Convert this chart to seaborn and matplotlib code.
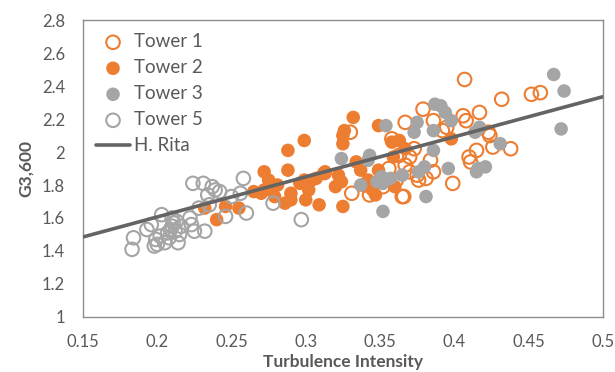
import matplotlib
matplotlib.use("Agg")
import matplotlib.pyplot as plt
import seaborn as sns
import numpy as np

# ---- data ----
t1_x = [0.407, 0.432, 0.452, 0.458, 0.438, 0.417, 0.406, 0.408, 0.423, 0.424,
        0.426, 0.415, 0.410, 0.411, 0.399, 0.379, 0.386, 0.367, 0.392, 0.384,
        0.386, 0.373, 0.370, 0.367, 0.370, 0.376, 0.361, 0.365, 0.358, 0.330,
        0.331, 0.343, 0.366, 0.375, 0.395, 0.352, 0.340, 0.356, 0.363, 0.381]
t1_y = [2.44, 2.32, 2.35, 2.36, 2.02, 2.24, 2.22, 2.19, 2.12, 2.10,
        2.03, 2.01, 1.97, 1.94, 1.81, 2.26, 2.19, 2.18, 2.13, 1.95,
        1.88, 2.02, 1.97, 1.92, 1.88, 1.83, 1.83, 1.73, 2.08, 2.12,
        1.75, 1.74, 1.73, 1.86, 2.15, 1.79, 1.80, 1.90, 1.98, 1.84]

t2_x = [0.299, 0.288, 0.272, 0.288, 0.312, 0.272, 0.277, 0.279, 0.290, 0.290,
        0.299, 0.304, 0.302, 0.309, 0.300, 0.286, 0.270, 0.275, 0.255, 0.246,
        0.232, 0.240, 0.332, 0.326, 0.325, 0.325, 0.349, 0.313, 0.322, 0.324,
        0.320, 0.334, 0.337, 0.342, 0.349, 0.345, 0.347, 0.325, 0.358, 0.359,
        0.363, 0.360, 0.367, 0.398, 0.296, 0.313, 0.281, 0.265, 0.307]
t2_y = [2.07, 2.01, 1.88, 1.89, 1.87, 1.77, 1.79, 1.73, 1.75, 1.71,
        1.83, 1.83, 1.77, 1.68, 1.71, 1.69, 1.75, 1.83, 1.66, 1.67,
        1.66, 1.59, 2.21, 2.13, 2.10, 2.05, 2.16, 1.88, 1.86, 1.82,
        1.79, 1.94, 1.89, 1.83, 1.89, 1.77, 1.74, 1.67, 2.06, 1.97,
        2.07, 1.79, 2.02, 2.08, 1.81, 1.87, 1.80, 1.76, 1.84]

t3_x = [0.467, 0.474, 0.472, 0.431, 0.414, 0.417, 0.416, 0.415, 0.387, 0.391,
        0.394, 0.398, 0.375, 0.373, 0.386, 0.386, 0.396, 0.380, 0.376, 0.381,
        0.352, 0.354, 0.324, 0.343, 0.342, 0.337, 0.348, 0.352, 0.357, 0.351,
        0.421, 0.365]
t3_y = [2.47, 2.37, 2.14, 2.05, 2.12, 2.15, 1.90, 1.88, 2.29, 2.28,
        2.24, 2.19, 2.18, 2.12, 2.13, 2.01, 1.90, 1.91, 1.88, 1.73,
        1.64, 2.16, 1.96, 1.98, 1.95, 1.80, 1.82, 1.81, 1.84, 1.85,
        1.91, 1.86]

t5_x = [0.183, 0.184, 0.193, 0.196, 0.203, 0.198, 0.200, 0.199, 0.202, 0.205,
        0.207, 0.209, 0.210, 0.211, 0.212, 0.213, 0.214, 0.215, 0.210, 0.208,
        0.224, 0.231, 0.237, 0.239, 0.234, 0.242, 0.250, 0.256, 0.258, 0.222,
        0.223, 0.225, 0.232, 0.228, 0.235, 0.246, 0.260, 0.278, 0.297, 0.216]
t5_y = [1.41, 1.48, 1.53, 1.56, 1.62, 1.43, 1.44, 1.47, 1.49, 1.45,
        1.51, 1.53, 1.55, 1.57, 1.52, 1.58, 1.45, 1.50, 1.60, 1.48,
        1.81, 1.81, 1.79, 1.77, 1.74, 1.76, 1.73, 1.75, 1.84, 1.60,
        1.56, 1.52, 1.52, 1.66, 1.68, 1.61, 1.63, 1.69, 1.59, 1.55]

rita_x = [0.15, 0.50]
rita_y = [1.485, 2.335]

x_ticks = [0.15, 0.2, 0.25, 0.3, 0.35, 0.4, 0.45, 0.5]
x_labels = ["0.15", "0.2", "0.25", "0.3", "0.35", "0.4", "0.45", "0.5"]
y_ticks = [1, 1.2, 1.4, 1.6, 1.8, 2, 2.2, 2.4, 2.6, 2.8]
y_labels = ["1", "1.2", "1.4", "1.6", "1.8", "2", "2.2", "2.4", "2.6", "2.8"]

ORANGE = "#ED7D31"
GRAY = "#A5A5A5"
LINE = "#646464"
TEXT = "#595959"
SPINE = "#8C8C8C"

sns.set_style("white")
plt.rcParams["font.family"] = ["Lato", "DejaVu Sans"]

fig = plt.figure(figsize=(6.15, 3.72), dpi=100)
ax = fig.add_axes([0.135, 0.148, 0.845, 0.798])

S = 95
sns.scatterplot(x=t1_x, y=t1_y, ax=ax, s=S, color=ORANGE, facecolor="none",
                edgecolor=ORANGE, linewidth=1.5, label="Tower 1", zorder=3)
sns.scatterplot(x=t2_x, y=t2_y, ax=ax, s=S, color=ORANGE, edgecolor="none",
                linewidth=0, label="Tower 2", zorder=3)
sns.scatterplot(x=t3_x, y=t3_y, ax=ax, s=S, color=GRAY, edgecolor="none",
                linewidth=0, label="Tower 3", zorder=3)
sns.scatterplot(x=t5_x, y=t5_y, ax=ax, s=S, color=GRAY, facecolor="none",
                edgecolor=GRAY, linewidth=1.5, label="Tower 5", zorder=3)
sns.lineplot(x=rita_x, y=rita_y, ax=ax, color=LINE, linewidth=2.6,
             label="H. Rita", zorder=4)

ax.set_xlim(0.15, 0.5)
ax.set_ylim(1, 2.8)
ax.set_xticks(x_ticks)
ax.set_xticklabels(x_labels)
ax.set_yticks(y_ticks)
ax.set_yticklabels(y_labels)
ax.tick_params(axis="both", direction="in", length=5, width=1, color=SPINE,
               labelcolor=TEXT, labelsize=12)
ax.tick_params(axis="x", pad=12)
ax.tick_params(axis="y", pad=13)
for sp in ax.spines.values():
    sp.set_color(SPINE)
    sp.set_linewidth(1)

ax.set_xlabel("Turbulence Intensity", fontsize=12.5, fontweight="bold",
              color=TEXT, labelpad=3)
ax.set_ylabel("G3,600", fontsize=12.5, fontweight="bold", color=TEXT,
              labelpad=6)

leg = ax.legend(loc="upper left", frameon=False, fontsize=13.5,
                labelcolor=TEXT, labelspacing=0.48, handlelength=1.8,
                handletextpad=0.2, borderaxespad=0.3,
                bbox_to_anchor=(0.0, 1.0))

fig.savefig("out.png", dpi=100)
